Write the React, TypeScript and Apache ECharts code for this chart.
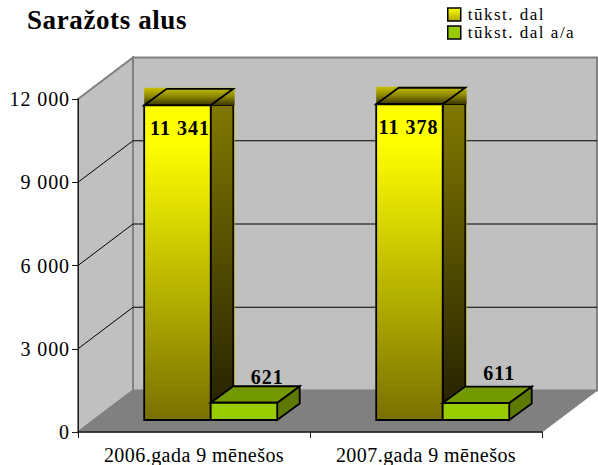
import React, { useEffect, useRef } from "react";
import * as echarts from "echarts";

const categories = ["2006.gada 9 mēnešos", "2007.gada 9 mēnešos"];
const seriesNames = ["tūkst. dal", "tūkst. dal a/a"];
const volumeValues = [11341, 11378];
const changeValues = [621, 611];
const volumeLabels = ["11 341", "11 378"];
const changeLabels = ["621", "611"];
const yTicks = [0, 3000, 6000, 9000, 12000];
const yLabels: Record<number, string> = { 0: "0", 3000: "3 000", 6000: "6 000", 9000: "9 000", 12000: "12 000" };
const titleText = "Saražots alus";

const FONT = "'Liberation Serif', 'Times New Roman', serif";
const WALL_DX = 55;
const WALL_DY = -41.5;
const BAR_DX = 22.5;
const BAR_DY = -16.5;
const SHIFT_DX = 16.7;
const SHIFT_DY = -12;
const BAR_W = 66.5;
const VOLUME_LABEL_NUDGE = [2.5, -1];
const CHANGE_LABEL_NUDGE = [-26, -30];

const grad = (stops: [number, string][]) =>
  new echarts.graphic.LinearGradient(0, 0, 0, 1, stops.map(([offset, color]) => ({ offset, color })));

const poly = (points: number[][], fill: any, stroke = "#000", lineWidth = 1.8) => ({
  type: "polygon",
  shape: { points },
  style: { fill, stroke, lineWidth },
});

const renderWalls = (_: any, api: any) => {
  const tick = api.value(0);
  const [x0, yBase] = api.coord([0, 0]);
  const band = api.size([1, 0])[0];
  const left = x0 - band / 2;
  const right = left + band * 2;
  const y = api.coord([0, tick])[1];
  const children: any[] = [];
  if (tick === 12000) {
    children.push({
      type: "polygon",
      shape: { points: [[left + WALL_DX, y + WALL_DY], [right + WALL_DX, y + WALL_DY], [right + WALL_DX, yBase + WALL_DY], [left + WALL_DX, yBase + WALL_DY]] },
      style: { fill: "#c0c0c0", stroke: "#808080", lineWidth: 2 },
    });
    children.push({
      type: "polygon",
      shape: { points: [[left, y], [left + WALL_DX, y + WALL_DY], [left + WALL_DX, yBase + WALL_DY], [left, yBase]] },
      style: { fill: "#c0c0c0", stroke: "#808080", lineWidth: 2 },
    });
  }
  if (tick === 0) {
    children.push({
      type: "polygon",
      shape: { points: [[left, y], [left + WALL_DX, y + WALL_DY], [right + WALL_DX, y + WALL_DY], [right, y]] },
      style: { fill: "#808080", stroke: "#808080", lineWidth: 1 },
    });
  } else if (tick !== 12000) {
    children.push({
      type: "polyline",
      shape: { points: [[left, y], [left + WALL_DX, y + WALL_DY], [right + WALL_DX, y + WALL_DY]] },
      style: { fill: "none", stroke: "#000", lineWidth: 1 },
    });
  }
  return { type: "group", children };
};

const barShape = (api: any, offset: number) => {
  const idx = api.value(0);
  const val = api.value(1);
  const [cx, yv] = api.coord([idx, val]);
  const y0 = api.coord([idx, 0])[1];
  const xl = cx + SHIFT_DX + offset * BAR_W - BAR_W;
  return { idx, xl, xr: xl + BAR_W, yt: yv + SHIFT_DY, yb: y0 + SHIFT_DY };
};

const renderVolume = (_: any, api: any) => {
  const { idx, xl, xr, yt, yb } = barShape(api, 0);
  const topFill = () => grad([[0, "#c8c000"], [0.5, "#8c8600"], [1, "#3a3600"]]);
  return {
    type: "group",
    children: [
      { type: "rect", shape: { x: xr, y: yt, width: BAR_DX + 1.5, height: yb - yt }, style: { fill: "#b0a800" } },
      poly([[xr, yt], [xr + BAR_DX, yt], [xr + BAR_DX, yb], [xr, yb]], grad([[0, "#807800"], [1, "#231f00"]]), "#000", 1.5),
      { type: "rect", shape: { x: xl, y: yt + BAR_DY - 1, width: xr - xl + BAR_DX + 1.5, height: -BAR_DY + 1 }, style: { fill: topFill() } },
      poly([[xl, yt], [xl + BAR_DX, yt + BAR_DY], [xr + BAR_DX, yt + BAR_DY], [xr, yt]], "none"),
      poly([[xl, yt], [xr, yt], [xr, yb], [xl, yb]], grad([[0, "#ffff00"], [0.12, "#ffff00"], [1, "#787000"]])),
      {
        type: "text",
        x: (xl + xr) / 2 + VOLUME_LABEL_NUDGE[idx],
        y: yt + 22.5,
        style: { text: volumeLabels[idx], fontFamily: FONT, fontSize: 20, fontWeight: "bold", fill: "#000", align: "center", verticalAlign: "middle" },
      },
    ],
  };
};

const renderChange = (_: any, api: any) => {
  const { idx, xl, xr, yt, yb } = barShape(api, 1);
  return {
    type: "group",
    children: [
      poly([[xr, yt], [xr + BAR_DX, yt + BAR_DY], [xr + BAR_DX, yb + BAR_DY], [xr, yb]], "#5c7a00"),
      poly([[xl, yt], [xl + BAR_DX, yt + BAR_DY], [xr + BAR_DX, yt + BAR_DY], [xr, yt]], "#739900"),
      poly([[xl, yt], [xr, yt], [xr, yb], [xl, yb]], "#99cc00"),
      {
        type: "text",
        x: xl + 56.5,
        y: yt + CHANGE_LABEL_NUDGE[idx],
        style: { text: changeLabels[idx], fontFamily: FONT, fontSize: 20, fontWeight: "bold", fill: "#000", align: "center", verticalAlign: "middle" },
      },
    ],
  };
};

const spacingFor = (t: string) => {
  if (t === titleText) return "0.6px";
  if (seriesNames.includes(t)) return "1.5px";
  if (categories.includes(t)) return "0.45px";
  if (volumeLabels.includes(t) || changeLabels.includes(t)) return "1px";
  return "0.9px";
};

export default function App() {
  const ref = useRef<HTMLDivElement>(null);
  useEffect(() => {
    const chart = echarts.init(ref.current!, undefined, { renderer: "svg" });
    chart.setOption({
      animation: false,
      backgroundColor: "#fff",
      title: {
        text: titleText,
        left: 22,
        top: 1,
        textStyle: { fontFamily: FONT, fontSize: 27, fontWeight: "bold", color: "#000" },
      },
      legend: {
        orient: "vertical",
        left: 442,
        top: 1,
        itemWidth: 13,
        itemHeight: 13,
        itemGap: 1,
        itemStyle: { borderColor: "#000", borderWidth: 1.5 },
        textStyle: { fontFamily: FONT, fontSize: 17, lineHeight: 17, color: "#000", padding: [0, 0, 0, 2] },
        data: [
          { name: seriesNames[0], icon: "rect", itemStyle: { color: grad([[0, "#ffff00"], [1, "#b0a800"]]) } },
          { name: seriesNames[1], icon: "rect", itemStyle: { color: "#99cc00" } },
        ],
      },
      grid: { left: 78, right: 56, top: 99, bottom: 32.5 },
      xAxis: {
        type: "category",
        data: categories,
        z: 10,
        axisLine: { lineStyle: { color: "#1a1a1a", width: 1.5 } },
        axisTick: { show: true, alignWithLabel: false, length: 6, lineStyle: { color: "#1a1a1a" } },
        axisLabel: { fontFamily: FONT, fontSize: 20, color: "#000", margin: 13, interval: 0 },
      },
      yAxis: {
        type: "value",
        min: 0,
        max: 12000,
        interval: 3000,
        z: 10,
        axisLine: { show: true, lineStyle: { color: "#1a1a1a", width: 1 } },
        axisTick: { show: true, length: 6, lineStyle: { color: "#1a1a1a" } },
        splitLine: { show: false },
        axisLabel: { fontFamily: FONT, fontSize: 20, color: "#000", margin: 8, formatter: (v: number) => yLabels[v] },
      },
      series: [
        { type: "custom", name: "walls", coordinateSystem: "cartesian2d", z: 1, silent: true, renderItem: renderWalls, data: [...yTicks].reverse().map((t) => [t]), encode: { x: -1, y: 0 }, clip: false },
        { type: "custom", name: seriesNames[0], coordinateSystem: "cartesian2d", z: 2, renderItem: renderVolume, data: volumeValues.map((v, i) => [i, v]), itemStyle: { color: "#ffff00" }, clip: false },
        { type: "custom", name: seriesNames[1], coordinateSystem: "cartesian2d", z: 3, renderItem: renderChange, data: changeValues.map((v, i) => [i, v]), itemStyle: { color: "#99cc00" }, clip: false },
      ],
    });
    ref.current!.querySelectorAll("text").forEach((el) => {
      (el as any).style.letterSpacing = spacingFor(el.textContent || "");
    });
    return () => chart.dispose();
  }, []);
  return <div ref={ref} style={{ position: "fixed", left: 0, top: 0, width: 598, height: 465 }} />;
}
